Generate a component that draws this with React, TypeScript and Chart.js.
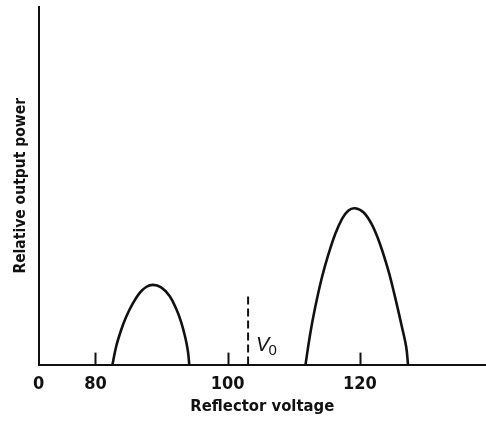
import React, { useEffect, useRef } from "react";
import { Chart, registerables } from "chart.js";

Chart.register(...registerables);

// Lower-voltage mode (reflector voltage, relative output power)
const leftModeVoltage = [82.58, 83.13, 83.88, 84.64, 85.66, 86.67, 87.67, 88.69, 89.94, 91.22, 92.22, 92.97, 93.58, 93.99, 94.2];
const leftModePower = [0, 5.0, 9.6, 13.3, 17.1, 20.0, 21.7, 22.3, 21.6, 19.2, 15.6, 11.9, 7.7, 3.8, 0];

// Higher-voltage mode
const rightModeVoltage = [111.79, 112.47, 113.23, 114.25, 115.25, 116.26, 117.28, 118.28, 119.29, 120.55, 121.82, 123.08, 124.34, 125.35, 126.37, 127.02, 127.3];
const rightModePower = [0, 8.3, 15.8, 24.2, 30.8, 36.4, 40.6, 43.1, 43.7, 42.6, 39.2, 33.6, 26.2, 18.8, 10.6, 5.0, 0];

// V0 marker
const v0Voltage = 103.1;
const v0LinePower = [0, 20];

// Axis
const xAxisMin = 71.4; // broken axis origin, labelled "0"
const xAxisMax = 139.1;
const tickValues = [xAxisMin, 80, 100, 120];
const tickLabels = ["0", "80", "100", "120"];
const tickMarkValues = [80, 100, 120];
const yAxisMax = 100;

const FONT = "'Liberation Sans Narrow', 'DejaVu Sans Condensed', 'Liberation Sans', Arial, sans-serif";
const INK = "#111111";

const overlayPlugin = {
  id: "overlay",
  afterDatasetsDraw(chart: any) {
    const { ctx, scales } = chart;
    const x = scales.x;
    const y = scales.y;
    const base = y.getPixelForValue(0);
    ctx.save();
    ctx.strokeStyle = INK;
    ctx.lineWidth = 2;
    for (const v of tickMarkValues) {
      const px = Math.round(x.getPixelForValue(v)) + 0.5;
      ctx.beginPath();
      ctx.moveTo(px, base);
      ctx.lineTo(px, base - 12);
      ctx.stroke();
    }
    // V0 label
    const lx = x.getPixelForValue(v0Voltage) + 8;
    ctx.fillStyle = INK;
    ctx.textBaseline = "alphabetic";
    ctx.textAlign = "left";
    ctx.font = `italic 20px 'Liberation Sans', Arial, sans-serif`;
    ctx.fillText("V", lx, base - 14);
    const vw = ctx.measureText("V").width;
    ctx.font = `15px 'Liberation Sans', Arial, sans-serif`;
    ctx.fillText("0", lx + vw - 1, base - 10);
    ctx.restore();
  },
};

export default function App() {
  const canvasRef = useRef<HTMLCanvasElement | null>(null);

  useEffect(() => {
    const canvas = canvasRef.current;
    if (!canvas) return;
    const toPoints = (xs: number[], ys: number[]) => xs.map((v, i) => ({ x: v, y: ys[i] }));
    const chart = new Chart(canvas, {
      type: "line",
      data: {
        datasets: [
          {
            label: "Mode 1",
            data: toPoints(leftModeVoltage, leftModePower),
            borderColor: INK,
            borderWidth: 2.6,
            pointRadius: 0,
            tension: 0.4,
            fill: false,
          },
          {
            label: "Mode 2",
            data: toPoints(rightModeVoltage, rightModePower),
            borderColor: INK,
            borderWidth: 2.6,
            pointRadius: 0,
            tension: 0.4,
            fill: false,
          },
          {
            label: "V0",
            data: toPoints([v0Voltage, v0Voltage], v0LinePower),
            borderColor: INK,
            borderWidth: 2,
            borderDash: [8, 4],
            pointRadius: 0,
            fill: false,
          },
        ],
      },
      options: {
        animation: false,
        responsive: false,
        devicePixelRatio: 1,
        layout: { padding: { top: 7, right: 0, left: 0, bottom: 0 } },
        plugins: {
          legend: { display: false },
          tooltip: { enabled: false },
        },
        scales: {
          x: {
            type: "linear",
            min: xAxisMin,
            max: xAxisMax,
            afterBuildTicks: (scale: any) => {
              scale.ticks = tickValues.map((v) => ({ value: v }));
            },
            ticks: {
              autoSkip: false,
              maxRotation: 0,
              padding: 9,
              color: INK,
              font: { family: FONT, size: 18, weight: "bold" },
              callback: (_v: any, i: number) => tickLabels[i],
            },
            grid: { display: true, drawOnChartArea: false, drawTicks: false, tickLength: 0 },
            border: { display: true, color: INK, width: 2 },
            title: {
              display: true,
              text: "Reflector voltage",
              color: INK,
              font: { family: FONT, size: 16.5, weight: "bold" },
              padding: { top: -7, bottom: 4 },
            },
          },
          y: {
            type: "linear",
            min: 0,
            max: yAxisMax,
            ticks: { display: false },
            grid: { display: true, drawOnChartArea: false, drawTicks: false, tickLength: 0 },
            border: { display: true, color: INK, width: 2 },
            title: {
              display: true,
              text: "Relative output power",
              color: INK,
              font: { family: FONT, size: 15.5, weight: "bold" },
              padding: { top: 12, bottom: 8 },
            },
          },
        },
      },
      plugins: [overlayPlugin],
    } as any);
    return () => chart.destroy();
  }, []);

  return (
    <div style={{ position: "fixed", left: 0, top: 0, width: 486, height: 421 }}>
      <canvas ref={canvasRef} width={486} height={421} style={{ display: "block", width: 486, height: 421 }} />
    </div>
  );
}
